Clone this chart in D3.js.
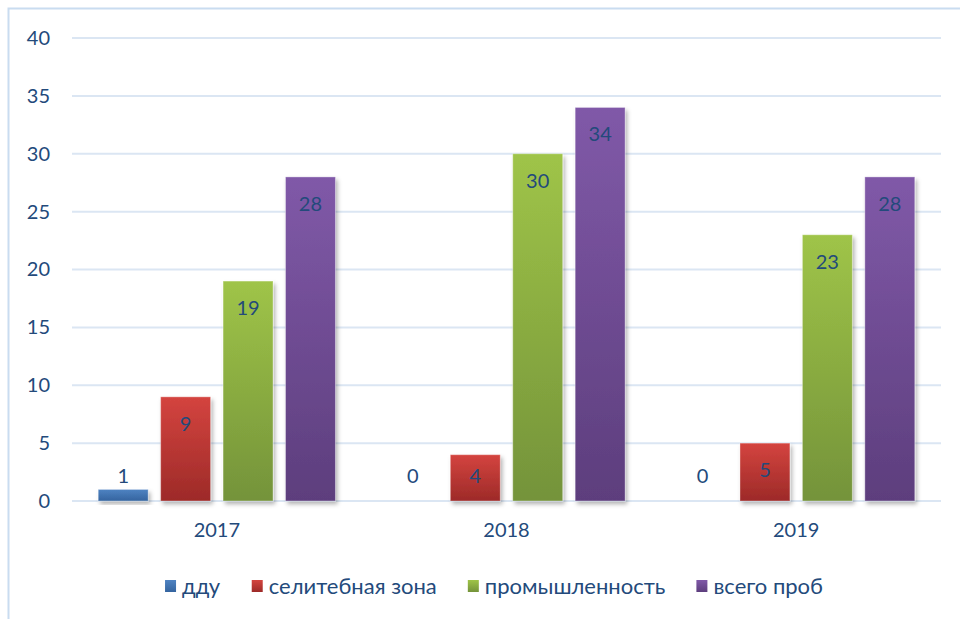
<!DOCTYPE html>
<html>
<head>
<meta charset="utf-8">
<script src="https://cdn.jsdelivr.net/npm/d3@7"></script>
<style>
  body { margin: 0; background: #fff; }
  svg { display: block; }
</style>
</head>
<body>
<div id="chart"></div>
<script>
const width = 960;
const height = 619;

// data
const years = ["2017", "2018", "2019"];
const seriesNames = ["дду", "селитебная зона", "промышленность", "всего проб"];
const ddu = [1, 0, 0];
const selit = [9, 4, 5];
const prom = [19, 30, 23];
const total = [28, 34, 28];
const yTicks = [0, 5, 10, 15, 20, 25, 30, 35, 40];

const seriesValues = [ddu, selit, prom, total];
const colors = [
  ["#4f83c2", "#34649f"],
  ["#d4443f", "#9d2a28"],
  ["#9fc448", "#74933a"],
  ["#8059a8", "#5d3e7d"]
];
const textColor = "#234a7b";
const font = "Lato, 'Open Sans', sans-serif";

const svg = d3.select("#chart")
  .append("svg")
  .attr("width", width)
  .attr("height", height);

const defs = svg.append("defs");

// drop shadow for bars
const shadow = defs.append("filter")
  .attr("id", "shadow")
  .attr("x", "-20%").attr("y", "-20%")
  .attr("width", "150%").attr("height", "150%");
shadow.append("feDropShadow")
  .attr("dx", 2).attr("dy", 3)
  .attr("stdDeviation", 2)
  .attr("flood-color", "#000")
  .attr("flood-opacity", 0.3);

colors.forEach((c, i) => {
  const g = defs.append("linearGradient")
    .attr("id", "grad" + i)
    .attr("x1", "0%").attr("y1", "0%")
    .attr("x2", "0%").attr("y2", "100%");
  g.append("stop").attr("offset", "0%").attr("stop-color", c[0]);
  g.append("stop").attr("offset", "100%").attr("stop-color", c[1]);
});

// outer frame (cropped on right and bottom)
svg.append("path")
  .attr("d", `M8.5,${height} V8.5 H${width}`)
  .attr("fill", "none")
  .attr("stroke", "#c9dcf0")
  .attr("stroke-width", 2);

const x0 = d3.scaleBand()
  .domain(years)
  .range([72, 941]);

const x1 = d3.scaleBand()
  .domain(d3.range(seriesNames.length))
  .range([0, x0.bandwidth()])
  .paddingInner(0.2)
  .paddingOuter(0.42);

const y = d3.scaleLinear()
  .domain([0, 40])
  .range([501, 38]);

// gridlines
svg.append("g")
  .selectAll("line")
  .data(yTicks)
  .join("line")
  .attr("x1", 72)
  .attr("x2", 941)
  .attr("y1", d => y(d))
  .attr("y2", d => y(d))
  .attr("stroke", "#dbe6f3")
  .attr("stroke-width", 2);

// y axis labels
const yAxis = svg.append("g")
  .attr("transform", "translate(50,0)")
  .call(d3.axisLeft(y).tickValues(yTicks).tickSize(0).tickPadding(0));
yAxis.select(".domain").remove();
yAxis.selectAll("text")
  .attr("fill", textColor)
  .style("font-family", font)
  .style("font-size", "20px");

// x axis labels
const xAxis = svg.append("g")
  .attr("transform", "translate(0,501)")
  .call(d3.axisBottom(x0).tickSize(0).tickPadding(22));
xAxis.select(".domain").remove();
xAxis.selectAll("text")
  .attr("fill", textColor)
  .style("font-family", font)
  .style("font-size", "20px");

// bars
const groups = svg.append("g")
  .selectAll("g")
  .data(years)
  .join("g")
  .attr("transform", d => `translate(${x0(d)},0)`);

const cells = groups.selectAll("g")
  .data((d, yi) => seriesValues.map((vals, si) => ({ si: si, v: vals[yi] })))
  .join("g");

cells.filter(d => d.v > 0)
  .append("rect")
  .attr("x", d => x1(d.si))
  .attr("y", d => y(d.v))
  .attr("width", x1.bandwidth())
  .attr("height", d => y(0) - y(d.v))
  .attr("fill", d => `url(#grad${d.si})`)
  .attr("stroke", "rgba(255,255,255,0.35)")
  .attr("stroke-width", 1)
  .attr("filter", "url(#shadow)");

// value labels (inside end, pushed up when bar too short)
cells.append("text")
  .attr("x", d => x1(d.si) + x1.bandwidth() / 2)
  .attr("y", d => Math.min(y(d.v) + 27, y(0) - 25))
  .attr("dy", "0.35em")
  .attr("text-anchor", "middle")
  .attr("fill", textColor)
  .style("font-family", font)
  .style("font-size", "20px")
  .text(d => d.v);

// legend
const legend = svg.append("g");
const items = legend.selectAll("g")
  .data(seriesNames)
  .join("g");
items.append("rect")
  .attr("width", 11)
  .attr("height", 12)
  .attr("y", -6)
  .attr("fill", (d, i) => `url(#grad${i})`);
items.append("text")
  .attr("x", 17)
  .attr("dy", "0.38em")
  .attr("fill", textColor)
  .style("font-family", font)
  .style("font-size", "22px")
  .text(d => d);

let lx = 0;
const gap = 31;
items.each(function () {
  const w = this.getBBox().width;
  d3.select(this).attr("transform", `translate(${lx},0)`);
  lx += w + gap;
});
lx -= gap;
legend.attr("transform", `translate(${494 - lx / 2},586)`);
</script>
</body>
</html>
